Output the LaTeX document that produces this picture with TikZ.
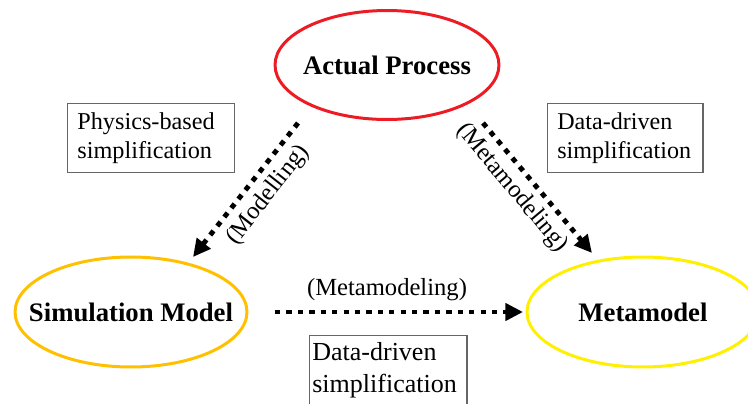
\documentclass[tikz,border=0pt]{standalone}
\usepackage{fontspec}
\setmainfont{Liberation Serif}
\usetikzlibrary{shapes.geometric,arrows.meta,calc}
\definecolor{cred}{RGB}{237,28,36}
\definecolor{corange}{RGB}{255,192,0}
\definecolor{cyellow}{RGB}{255,240,0}
\tikzset{
  stage/.style={ellipse,line width=1.7pt,outer sep=0pt,minimum width=4.64cm,minimum height=2.2cm},
  stagelabel/.style={font=\bfseries\fontsize{15.2}{18}\selectfont},
  simpbox/.style={draw=black!60,line width=0.8pt,anchor=north west,align=left,minimum height=1.38cm},
  flow/.style={line width=2.8pt,dash pattern=on 3pt off 3.5pt,-{Triangle[length=10pt,width=9.6pt]}},
  tag/.style={font=\fontsize{14}{16}\selectfont}
}

\begin{document}
\begin{tikzpicture}[x=0.02cm,y=-0.02cm] % one unit = one pixel, y down
  \useasboundingbox (0,0) rectangle (748,403);
  \clip (0,0) rectangle (748,403);
  % the three stages
  \node[stage,draw=cred,minimum width=4.48cm,minimum height=2.18cm,
        label={[stagelabel]center:Actual Process}] (actual) at (387,65) {};
  \node[stage,draw=corange,label={[stagelabel]center:Simulation Model}] (sim) at (131,312) {};
  \node[stage,draw=cyellow,label={[stagelabel]center:Metamodel}] (meta) at (643,312) {};
  % simplification boxes
  \node[simpbox,inner xsep=5.5pt,text width=84pt,font=\fontsize{13.8}{17}\selectfont]
    (physbox) at (67,103) {Physics-based\\simplification};
  \node[simpbox,inner xsep=5.5pt,text width=77.4pt,font=\fontsize{13.7}{17}\selectfont]
    (databox) at (547,103) {Data-driven\\simplification};
  \node[simpbox,inner xsep=1.5pt,text width=86.6pt,font=\fontsize{14.8}{18}\selectfont]
    (metabox) at (309,335) {Data-driven\\simplification};
  % arrows between the stages
  \draw[flow] ($(actual.south)+(-89,3.5)$) -- ($(sim.north)+(62,0)$);
  \draw[flow] ($(actual.south)+(96,3.5)$) -- ($(meta.north)+(-51,-4)$);
  \draw[flow] ($(sim.east)+(28,0)$) -- ($(meta.west)+(-4,0)$);
  \node[tag,rotate=52] (modlab) at (268,195) {(Modelling)};
  \node[tag,rotate=-50] (metalabA) at (512,188) {(Metamodeling)};
  \node[tag] (metalabB) at (387,290) {(Metamodeling)};
\end{tikzpicture}
\end{document}
